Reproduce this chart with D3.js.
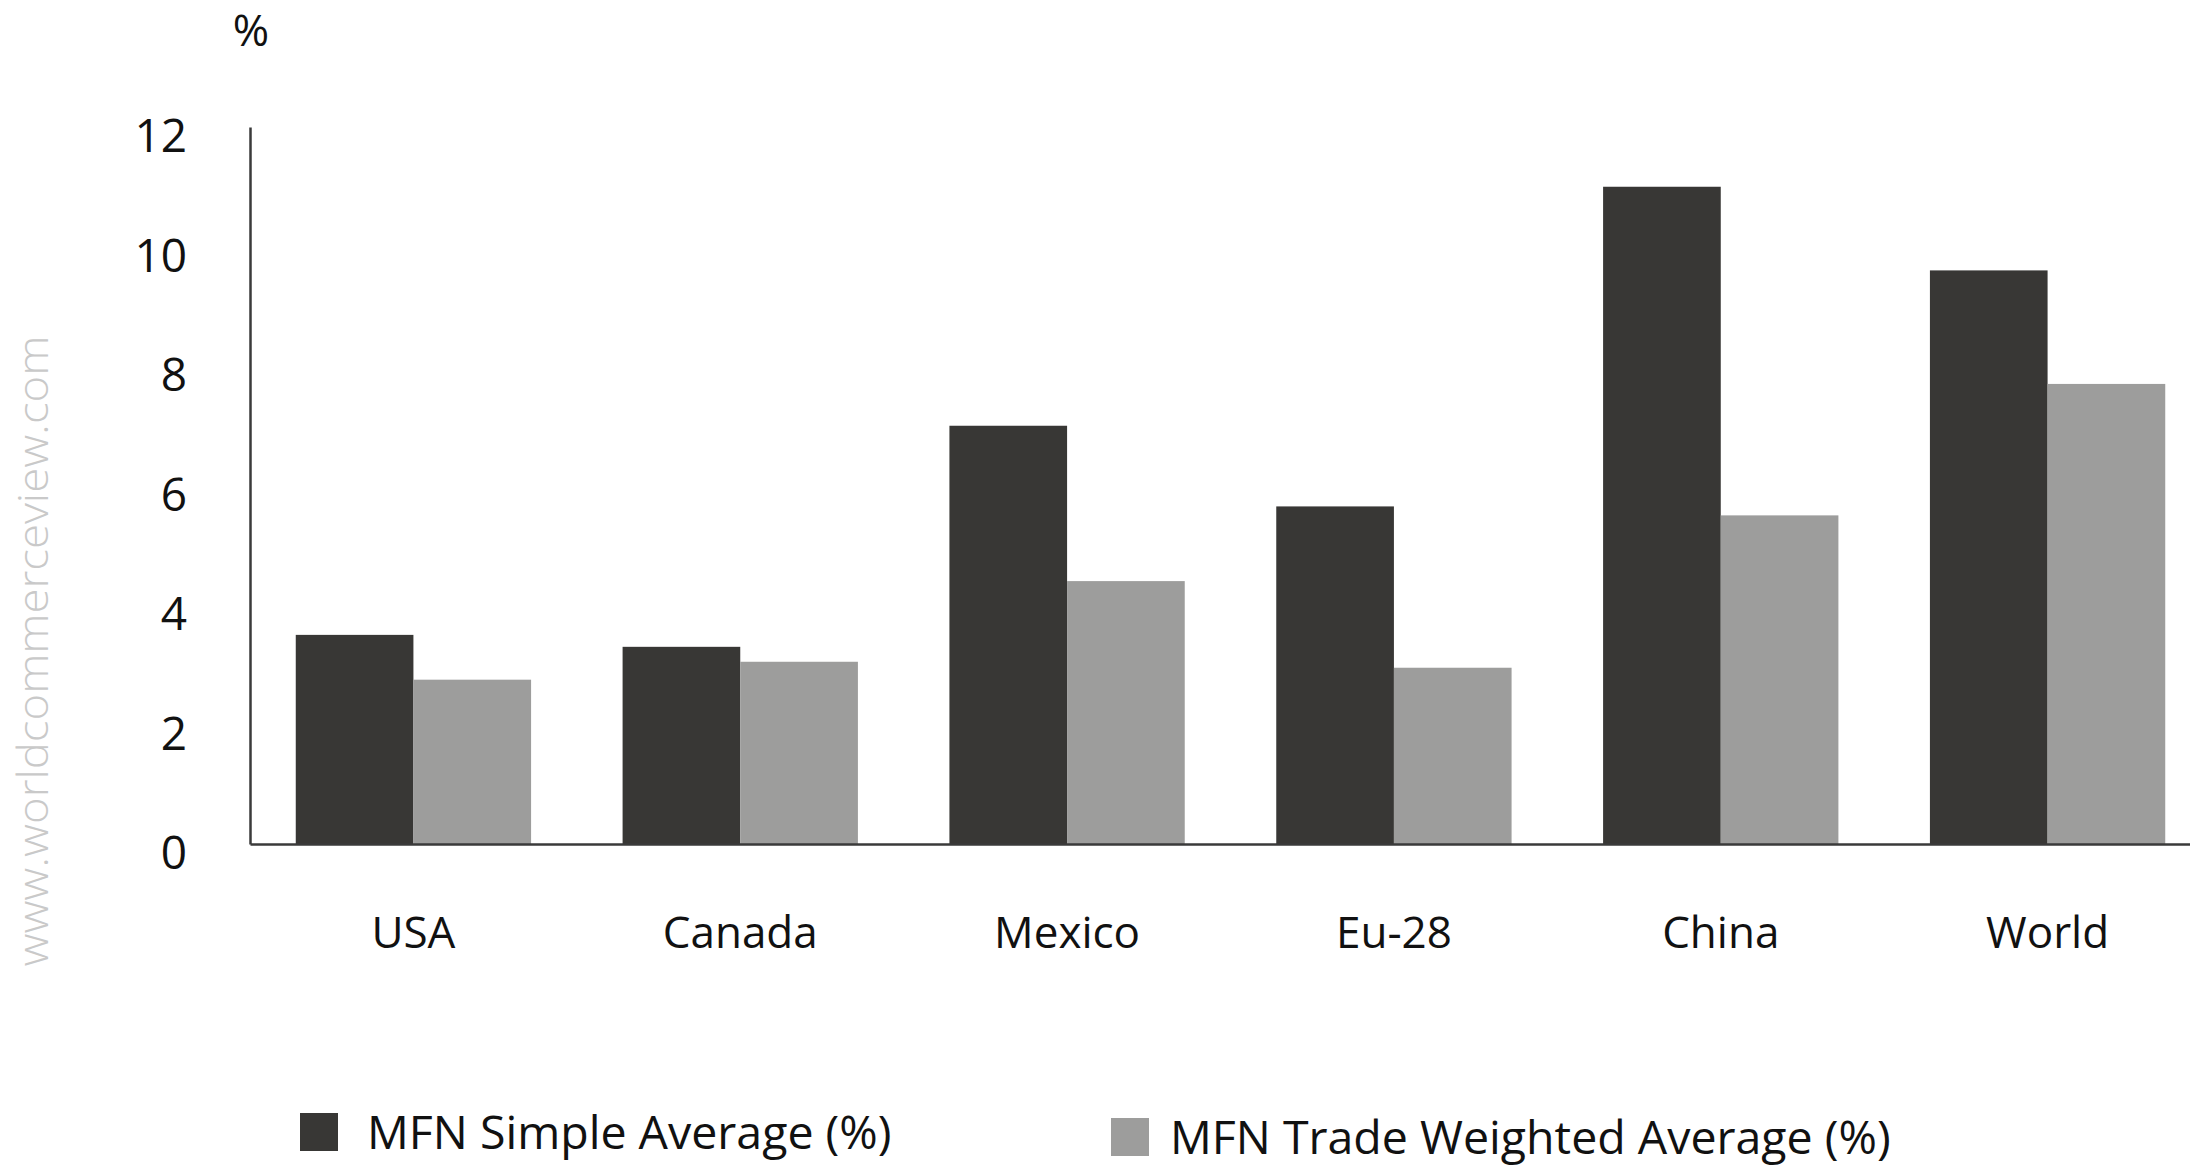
<!DOCTYPE html>
<html>
<head>
<meta charset="utf-8">
<script src="https://cdn.jsdelivr.net/npm/d3@7"></script>
<style>
  body { margin: 0; background: #fff; }
  svg { display: block; font-family: "Open Sans", "Noto Sans", sans-serif; }
</style>
</head>
<body>
<script>
const categories = ["USA", "Canada", "Mexico", "Eu-28", "China", "World"];
const seriesNames = ["MFN Simple Average (%)", "MFN Trade Weighted Average (%)"];
const simpleAvg = [3.5, 3.3, 7.0, 5.65, 11.0, 9.6];
const weightedAvg = [2.75, 3.05, 4.4, 2.95, 5.5, 7.7];
const yTicks = [0, 2, 4, 6, 8, 10, 12];

const w = 2190;
const h = 1168;
const font = "'Open Sans', 'Noto Sans', sans-serif";
const colors = ["#383735", "#9d9d9c"];

const rows = categories.map((c, i) => ({ cat: c, values: [simpleAvg[i], weightedAvg[i]] }));

const svg = d3.select("body")
  .append("svg")
  .attr("width", w)
  .attr("height", h);

// axis origin at (250, 844); band scale runs past the right edge like the original
const x0 = d3.scaleBand()
  .domain(categories)
  .range([250, 2211])
  .paddingInner(0.28)
  .paddingOuter(0.14);

const x1 = d3.scaleBand()
  .domain([0, 1])
  .range([0, x0.bandwidth()]);

const y = d3.scaleLinear()
  .domain([0, 12])
  .range([844, 127]);

// watermark
svg.append("text")
  .text("www.worldcommerceview.com")
  .attr("transform", "translate(48,651) rotate(-90)")
  .attr("text-anchor", "middle")
  .attr("font-size", 42)
  .attr("font-weight", 300)
  .attr("textLength", 631)
  .attr("lengthAdjust", "spacingAndGlyphs")
  .attr("fill", "#c9c9c9");

// bars
const groups = svg.append("g")
  .selectAll("g")
  .data(rows)
  .enter()
  .append("g")
  .attr("transform", d => "translate(" + x0(d.cat) + ",0)");

groups.selectAll("rect")
  .data(d => d.values.map((v, k) => ({ k: k, v: v })))
  .enter()
  .append("rect")
  .attr("x", d => x1(d.k))
  .attr("width", x1.bandwidth())
  .attr("y", d => y(d.v))
  .attr("height", d => y(0) - y(d.v))
  .attr("fill", d => colors[d.k]);

// y axis
const yAxis = d3.axisLeft(y)
  .tickValues(yTicks)
  .tickSize(0)
  .tickPadding(63)
  .tickFormat(d3.format("d"));

const yG = svg.append("g")
  .attr("transform", "translate(250,0)")
  .call(yAxis)
  .attr("font-family", font);
yG.select(".domain").attr("stroke", "#3a3a3a").attr("stroke-width", 2.5);
yG.selectAll("text")
  .attr("font-size", 46)
  .attr("fill", "#111")
  .attr("dy", "0.36em")
  .attr("transform", "translate(0,8)");

// x axis
const xAxis = d3.axisBottom(x0)
  .tickSize(0)
  .tickPadding(60);

const xG = svg.append("g")
  .attr("transform", "translate(0,844)")
  .call(xAxis)
  .attr("font-family", font);
xG.select(".domain").attr("stroke", "#3a3a3a").attr("stroke-width", 2.5);
xG.selectAll("text")
  .attr("font-size", 44)
  .attr("fill", "#111")
  .attr("dy", "0.36em")
  .attr("y", 88);

// unit label
svg.append("text")
  .text("%")
  .attr("x", 251)
  .attr("y", 46)
  .attr("text-anchor", "middle")
  .attr("font-size", 44)
  .attr("fill", "#111");

// legend
const legendPos = [[300, 1113, 67], [1111, 1118, 59]];
const legend = svg.append("g")
  .selectAll("g")
  .data(seriesNames)
  .enter()
  .append("g")
  .attr("transform", (d, i) => "translate(" + legendPos[i][0] + "," + legendPos[i][1] + ")");

legend.append("rect")
  .attr("width", 38)
  .attr("height", 38)
  .attr("fill", (d, i) => colors[i]);

legend.append("text")
  .text(d => d)
  .attr("x", (d, i) => legendPos[i][2])
  .attr("y", 36)
  .attr("font-size", 46.5)
  .attr("fill", "#111");
</script>
</body>
</html>
